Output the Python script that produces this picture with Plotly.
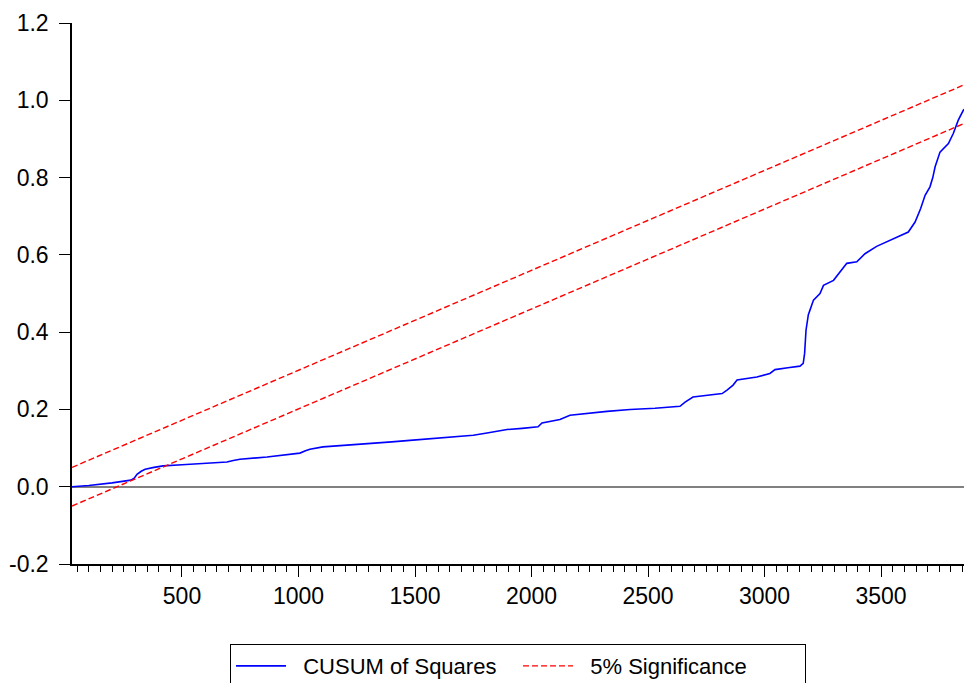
import plotly.graph_objects as go

# CUSUM of squares readings (observation, value)
obs = [28, 100, 200, 281, 295, 307, 325, 342, 380, 419, 500, 600, 693, 720, 749, 865, 950,
       1006, 1030, 1049, 1105, 1178, 1300, 1400, 1478, 1560, 1650, 1750, 1809, 1860, 1895,
       1960, 2028, 2045, 2080, 2122, 2165, 2251, 2324, 2423, 2530, 2637, 2659, 2693, 2760,
       2818, 2839, 2865, 2882, 2920, 2967, 3023, 3045, 3100, 3152, 3166, 3172, 3178, 3181,
       3188, 3195, 3210, 3238, 3253, 3296, 3325, 3353, 3396, 3431, 3481, 3524, 3567, 3617,
       3646, 3653, 3670, 3689, 3710, 3722, 3732, 3753, 3789, 3810, 3831, 3853, 3895]
cusum_sq = [0.000, 0.003, 0.010, 0.017, 0.022, 0.032, 0.040, 0.045, 0.050, 0.054, 0.057, 0.060,
            0.064, 0.068, 0.071, 0.077, 0.082, 0.087, 0.093, 0.097, 0.103, 0.106, 0.110, 0.116,
            0.120, 0.124, 0.129, 0.133, 0.139, 0.144, 0.148, 0.151, 0.155, 0.165, 0.169, 0.174,
            0.185, 0.191, 0.195, 0.200, 0.203, 0.208, 0.219, 0.232, 0.237, 0.241, 0.250, 0.263,
            0.276, 0.280, 0.284, 0.293, 0.303, 0.308, 0.312, 0.319, 0.345, 0.405, 0.422, 0.445,
            0.457, 0.483, 0.500, 0.521, 0.534, 0.556, 0.578, 0.582, 0.603, 0.622, 0.634, 0.646,
            0.659, 0.685, 0.694, 0.720, 0.754, 0.776, 0.800, 0.828, 0.866, 0.888, 0.914, 0.948,
            0.974, 1.000]

# 5% significance bands (straight lines)
band_x = [28, 3895]
band_upper = [0.05, 1.05]
band_lower = [-0.05, 0.95]

y_tickvals = [-0.2, 0.0, 0.2, 0.4, 0.6, 0.8, 1.0, 1.2]
y_ticktext = ["-0.2", "0.0", "0.2", "0.4", "0.6", "0.8", "1.0", "1.2"]
x_tickvals = [500, 1000, 1500, 2000, 2500, 3000, 3500]

FONT = "Liberation Sans, Arial, sans-serif"
NB = "\u00a0\u00a0"

fig = go.Figure()
fig.add_trace(go.Scatter(x=obs, y=cusum_sq, mode="lines", name=NB + "CUSUM of Squares",
                         line=dict(color="#0000FF", width=1.6)))
fig.add_trace(go.Scatter(x=band_x, y=band_upper, mode="lines", name=NB + "5% Significance",
                         line=dict(color="#FF0000", width=1.4, dash="6px,3px")))
fig.add_trace(go.Scatter(x=band_x, y=band_lower, mode="lines", name="5% Significance",
                         showlegend=False,
                         line=dict(color="#FF0000", width=1.4, dash="6px,3px")))

fig.update_layout(
    width=964, height=683,
    margin=dict(l=72, r=0, t=23, b=119, autoexpand=False),
    paper_bgcolor="white", plot_bgcolor="white",
    font=dict(family=FONT, size=22, color="black"),
    showlegend=True,
    legend=dict(orientation="h", x=0.5, xanchor="center", y=-0.148, yanchor="top",
                bordercolor="black", borderwidth=1, bgcolor="white",
                font=dict(family=FONT, size=22, color="black"),
                entrywidth=222, itemwidth=50, tracegroupgap=0),
)
fig.update_xaxes(range=[28, 3856], showgrid=False, zeroline=False, automargin=False,
                 showline=True, linecolor="black", linewidth=1.5,
                 ticks="outside", ticklen=11, tickcolor="black", tickwidth=1,
                 tickvals=x_tickvals, tickfont=dict(size=23),
                 minor=dict(dtick=50, tick0=0, ticks="outside", ticklen=6,
                            tickcolor="black", tickwidth=1, showgrid=False))
fig.update_yaxes(range=[-0.2, 1.2], showgrid=False, automargin=False,
                 zeroline=True, zerolinecolor="#808080", zerolinewidth=1.5,
                 showline=True, linecolor="black", linewidth=1.5,
                 ticks="outside", ticklen=11, tickcolor="black", tickwidth=1,
                 tickvals=y_tickvals, ticktext=y_ticktext, tickfont=dict(size=23),
                 ticklabelstandoff=6)

fig.write_html("out.html", config={"displayModeBar": False})

# remove the browser's default page margin so the figure sits at (0, 0)
with open("out.html", "r", encoding="utf-8") as f:
    html = f.read()
html = html.replace("<body>", '<body style="margin:0;padding:0;overflow:hidden">', 1)
with open("out.html", "w", encoding="utf-8") as f:
    f.write(html)
